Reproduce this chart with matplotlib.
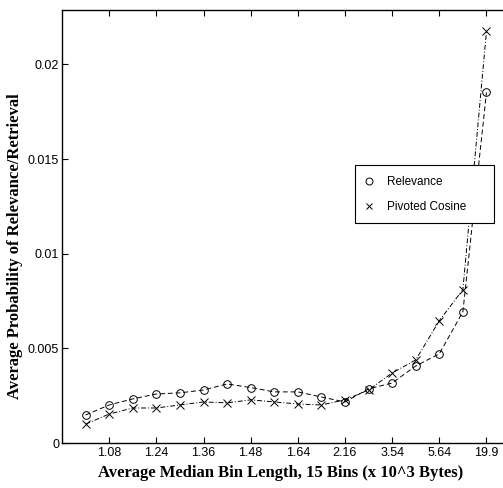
import numpy as np
import matplotlib
matplotlib.use("Agg")
import matplotlib.pyplot as plt
from matplotlib.lines import Line2D

# bins (18 points, every other one labelled)
bins = np.arange(1, 19)
tick_pos = [2, 4, 6, 8, 10, 12, 14, 16, 18]
tick_labels = ['1.08', '1.24', '1.36', '1.48', '1.64', '2.16', '3.54', '5.64', '19.9']

relevance = [0.00148, 0.00201, 0.00233, 0.00259, 0.00265, 0.00280, 0.00312, 0.00293,
             0.00270, 0.00270, 0.00243, 0.00217, 0.00286, 0.00317, 0.00407, 0.00471,
             0.00693, 0.01852]
pivoted = [0.00100, 0.00153, 0.00185, 0.00185, 0.00201, 0.00217, 0.00212, 0.00228,
           0.00217, 0.00206, 0.00201, 0.00228, 0.00280, 0.00370, 0.00439, 0.00646,
           0.00810, 0.02175]

plt.rcParams['font.family'] = 'Liberation Sans'

fig = plt.figure(figsize=(5.03, 4.88), dpi=100)
ax = fig.add_axes([0.1233, 0.0922, 0.8907, 0.8883])

ax.plot(bins, relevance, color='black', linestyle='--', linewidth=0.7,
        marker='o', markersize=5.5, markerfacecolor='none', markeredgewidth=0.7,
        dashes=(5, 3))
ax.plot(bins, pivoted, color='black', linestyle='-.', linewidth=0.7,
        marker='x', markersize=5.5, markeredgewidth=0.7,
        dashes=(5, 2, 1, 2))

ax.set_xlim(0, 19)
ax.set_ylim(0, 0.0229)
ax.set_xticks(tick_pos)
ax.set_xticklabels(tick_labels)
ax.set_yticks([0, 0.005, 0.01, 0.015, 0.02])
ax.set_yticklabels(['0', '0.005', '0.01', '0.015', '0.02'])
ax.tick_params(direction='in', length=4, width=0.8, labelsize=9, pad=3, top=True)
ax.tick_params(axis='y', pad=2)
for s in ax.spines.values():
    s.set_linewidth(1.0)

lab_font = dict(family='Liberation Serif', weight='bold', size=12)
ax.set_xlabel('Average Median Bin Length, 15 Bins (x 10^3 Bytes)', fontdict=lab_font)
ax.set_ylabel('Average Probability of Relevance/Retrieval', fontdict=lab_font)
ax.xaxis.set_label_coords(0.487, -0.051)
ax.yaxis.set_label_coords(-0.087, 0.454)

handles = [Line2D([], [], color='black', linestyle='none', marker='o', markersize=5,
                  markerfacecolor='none', markeredgewidth=0.7),
           Line2D([], [], color='black', linestyle='none', marker='x', markersize=5,
                  markeredgewidth=0.7)]
leg = ax.legend(handles, ['Relevance', 'Pivoted Cosine'], loc='upper left',
                bbox_to_anchor=(0.654, 0.5, 0.31, 0.141), mode='expand',
                borderaxespad=0, fancybox=False, framealpha=1, edgecolor='black',
                fontsize=8.5, handlelength=0.6, borderpad=0.9, labelspacing=1.1,
                handletextpad=1.2)
leg.get_frame().set_linewidth(0.8)

fig.savefig('out.png', dpi=100)
